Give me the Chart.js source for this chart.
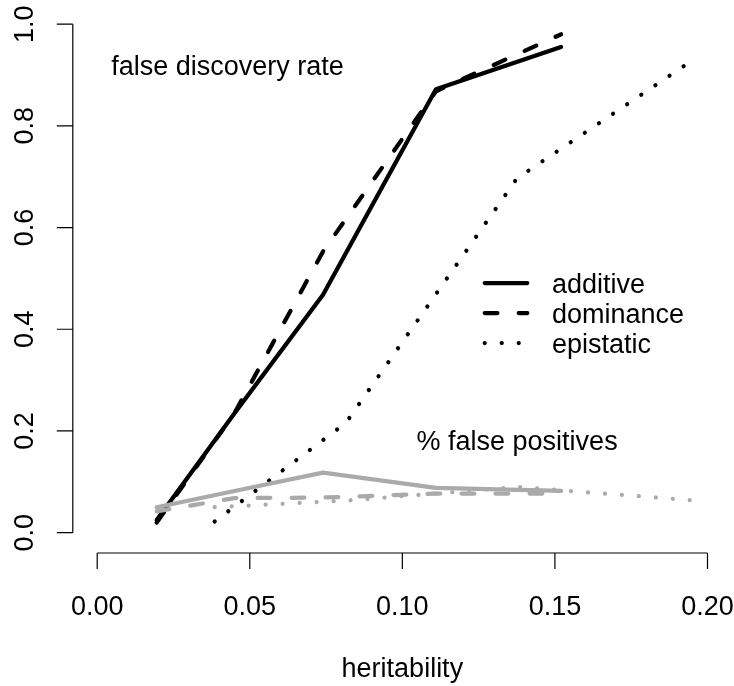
<!DOCTYPE html>
<html><head><meta charset="utf-8">
<script src="https://cdn.jsdelivr.net/npm/chart.js@4"></script>
<style>html,body{margin:0;padding:0;background:#fff}#wrap{width:734px;height:686px}</style>
</head><body><div id="wrap"><canvas id="c" width="734" height="686"></canvas></div>
<script>
// ---- data ----
const xMain = [0.0195, 0.045, 0.074, 0.111, 0.152];
const xEpi = [0.0385, 0.0815, 0.1376, 0.1966];
const fdrAdditive = [0.025, 0.235, 0.468, 0.872, 0.955];
const fdrDominance = [0.02, 0.235, 0.553, 0.868, 0.980];
const fdrEpistatic = [0.022, 0.216, 0.697, 0.935];
const fpAdditive = [0.050, 0.082, 0.118, 0.088, 0.082];
const fpDominance = [0.042, 0.068, 0.069, 0.077, 0.077];
const fpEpistatic = [0.050, 0.063, 0.090, 0.063];
const xTicks = [0, 0.05, 0.10, 0.15, 0.20];
const xTickLabels = ["0.00", "0.05", "0.10", "0.15", "0.20"];
const yTicks = [0, 0.2, 0.4, 0.6, 0.8, 1.0];
const yTickLabels = ["0.0", "0.2", "0.4", "0.6", "0.8", "1.0"];
const seriesNames = ["additive", "dominance", "epistatic"];
const xTitle = "heritability";
const fdrLabel = "false discovery rate";
const fpLabel = "% false positives";

const FONT = '27px "Liberation Sans", Arial, sans-serif';
const LW = 4.25;
const DASH = [12.75, 21.25];
const DOT = [0.01, 17];
const BLACK = '#000000';
const GRAY = '#aaaaaa';

function pts(xs, ys) { return xs.map((x, i) => ({x: x, y: ys[i]})); }
function ds(label, xs, ys, color, dash) {
  return {label: label, data: pts(xs, ys), borderColor: color, borderWidth: LW,
    borderDash: dash, borderCapStyle: 'round', borderJoinStyle: 'round',
    pointRadius: 0, tension: 0, fill: false};
}

const legendStyles = [[], DASH, DOT];

const axesPlugin = {
  id: 'rAxes',
  afterDraw(chart) {
    const ctx = chart.ctx;
    const xs = chart.scales.x, ys = chart.scales.y;
    const ca = chart.chartArea;
    ctx.save();
    ctx.strokeStyle = '#000'; ctx.fillStyle = '#000';
    ctx.lineWidth = 1.2; ctx.setLineDash([]); ctx.lineCap = 'butt';
    // x axis
    const yb = ca.bottom;
    ctx.beginPath();
    ctx.moveTo(xs.getPixelForValue(xTicks[0]), yb);
    ctx.lineTo(xs.getPixelForValue(xTicks[xTicks.length - 1]), yb);
    xTicks.forEach(v => { const p = xs.getPixelForValue(v); ctx.moveTo(p, yb); ctx.lineTo(p, yb + 16); });
    ctx.stroke();
    ctx.font = FONT; ctx.textAlign = 'center'; ctx.textBaseline = 'alphabetic';
    xTicks.forEach((v, i) => ctx.fillText(xTickLabels[i], xs.getPixelForValue(v), yb + 61.5));
    // y axis
    const xl = ca.left;
    ctx.beginPath();
    ctx.moveTo(xl, ys.getPixelForValue(yTicks[0]));
    ctx.lineTo(xl, ys.getPixelForValue(yTicks[yTicks.length - 1]));
    yTicks.forEach(v => { const p = ys.getPixelForValue(v); ctx.moveTo(xl, p); ctx.lineTo(xl - 16, p); });
    ctx.stroke();
    yTicks.forEach((v, i) => {
      ctx.save();
      ctx.translate(xl - 40, ys.getPixelForValue(v));
      ctx.rotate(-Math.PI / 2);
      ctx.fillText(yTickLabels[i], 0, 0);
      ctx.restore();
    });
    // axis title
    ctx.fillText(xTitle, (ca.left + ca.right) / 2, yb + 124);
    // annotations
    ctx.fillText(fdrLabel, xs.getPixelForValue(0.0427), ys.getPixelForValue(0.9008));
    ctx.fillText(fpLabel, xs.getPixelForValue(0.1376), ys.getPixelForValue(0.162));
    // legend
    const lx0 = 484.7, lx1 = 527.3, tx = 552, rows = [283, 313, 343];
    seriesNames.forEach((name, i) => {
      ctx.beginPath();
      ctx.lineWidth = LW; ctx.lineCap = 'round';
      ctx.setLineDash(legendStyles[i]);
      ctx.moveTo(lx0, rows[i]); ctx.lineTo(lx1, rows[i]);
      ctx.stroke();
      ctx.setLineDash([]);
      ctx.textAlign = 'left';
      ctx.fillText(name, tx, rows[i] + 9.7);
    });
    ctx.restore();
  }
};

new Chart(document.getElementById('c'), {
  type: 'line',
  data: {
    datasets: [
      ds('fp ' + seriesNames[0], xMain, fpAdditive, GRAY, []),
      ds('fp ' + seriesNames[1], xMain, fpDominance, GRAY, DASH),
      ds('fp ' + seriesNames[2], xEpi, fpEpistatic, GRAY, DOT),
      ds(seriesNames[0], xMain, fdrAdditive, BLACK, []),
      ds(seriesNames[1], xMain, fdrDominance, BLACK, DASH),
      ds(seriesNames[2], xEpi, fdrEpistatic, BLACK, DOT)
    ]
  },
  options: {
    responsive: false, animation: false, devicePixelRatio: 1,
    layout: {padding: {left: 72.8, right: 2.1, top: 3.8, bottom: 133}},
    plugins: {legend: {display: false}, tooltip: {enabled: false}},
    scales: {
      x: {type: 'linear', min: -0.008, max: 0.208, display: false},
      y: {type: 'linear', min: -0.04, max: 1.04, display: false}
    }
  },
  plugins: [axesPlugin]
});
</script></body></html>
